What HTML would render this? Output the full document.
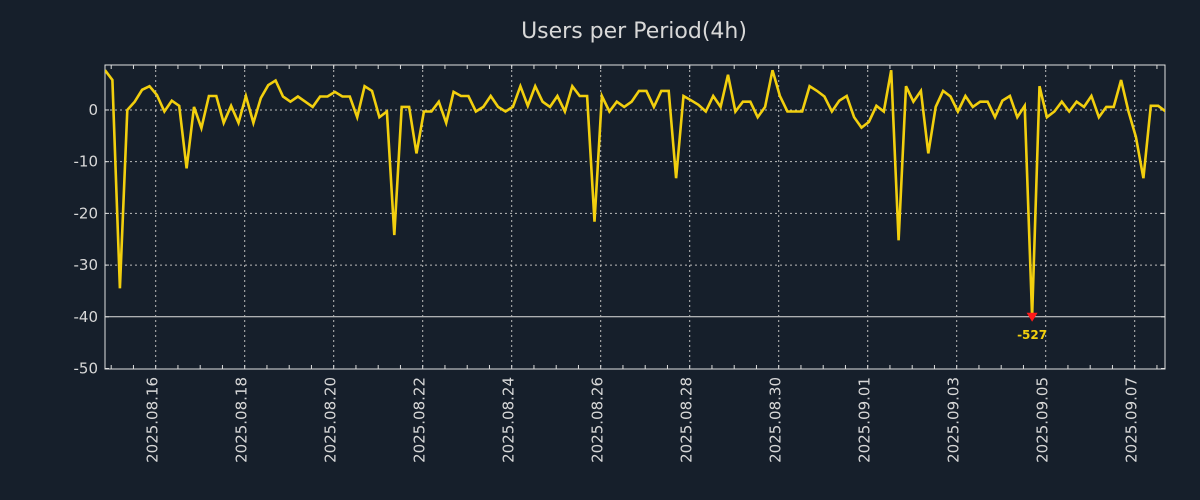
<!DOCTYPE html>
<html><head><meta charset="utf-8"><style>
html,body{margin:0;padding:0;background:#161f2b;}
svg{display:block;font-family:"DejaVu Sans","Liberation Sans",sans-serif;}
</style></head><body>
<svg id="chart" width="1200" height="500" viewBox="0 0 1200 500">
<rect width="1200" height="500" fill="#161f2b"/>
<text x="634" y="38" text-anchor="middle" font-size="22" fill="#d8d8d8">Users per Period(4h)</text>
<g id="grid"></g><g id="axes"></g>
<clipPath id="clip"><rect x="105" y="65" width="1060" height="304"/></clipPath>
<g id="series" clip-path="url(#clip)"></g><g id="annot"></g>
</svg>
<script>
const startTime = "2025-08-14T20:40";
const periodHours = 4;
const values = [7.7,5.8,-34.5,0,1.6,3.9,4.6,2.9,-0.3,1.8,0.8,-11.3,0.6,-3.5,2.7,2.7,-2.5,0.8,-2.5,2.7,-2.5,2.3,4.8,5.7,2.6,1.6,2.6,1.6,0.6,2.6,2.6,3.5,2.6,2.6,-1.4,4.6,3.7,-1.4,-0.3,-24.2,0.6,0.6,-8.4,-0.3,-0.3,1.6,-2.5,3.5,2.7,2.7,-0.3,0.6,2.7,0.6,-0.3,0.6,4.6,0.8,4.6,1.6,0.6,2.7,-0.3,4.6,2.7,2.7,-21.6,2.7,-0.3,1.6,0.6,1.6,3.7,3.7,0.6,3.7,3.7,-13.2,2.7,1.9,1.0,-0.3,2.7,0.6,6.8,-0.3,1.6,1.6,-1.4,0.6,7.7,2.7,-0.3,-0.3,-0.3,4.6,3.7,2.6,-0.3,1.8,2.7,-1.4,-3.4,-2.3,0.8,-0.3,7.7,-25.2,4.6,1.6,3.7,-8.4,0.6,3.7,2.6,-0.3,2.7,0.6,1.6,1.6,-1.4,1.8,2.7,-1.4,0.8,-527,4.6,-1.4,-0.3,1.6,-0.3,1.6,0.6,2.7,-1.4,0.6,0.6,5.8,-0.3,-5.2,-13.2,0.8,0.8,-0.3];
const yTicks = [0,-10,-20,-30,-40,-50];
const xTickLabels = ["2025.08.16","2025.08.18","2025.08.20","2025.08.22","2025.08.24","2025.08.26","2025.08.28","2025.08.30","2025.09.01","2025.09.03","2025.09.05","2025.09.07"];
const clipFloor = -40;

const NS="http://www.w3.org/2000/svg";
const L=105,R=1165,T=65,B=369;
const yMin=-50.1,yMax=8.7;
const y=v=>T+(yMax-v)/(yMax-yMin)*(B-T);
const ref=new Date("2025-08-16T00:00").getTime();
const pxPerHour=44.5/24;
const xOfTime=t=>155.7+(t-ref)/3600000*pxPerHour;
const t0=new Date(startTime).getTime();
const xOfIdx=i=>xOfTime(t0+i*periodHours*3600000);
function mk(tag,attrs,parent){const e=document.createElementNS(NS,tag);for(const k in attrs)e.setAttribute(k,attrs[k]);parent.appendChild(e);return e;}
const grid=document.getElementById('grid'),axes=document.getElementById('axes'),series=document.getElementById('series'),annot=document.getElementById('annot');

yTicks.forEach(v=>{
  const yy=y(v);
  if(v===clipFloor){
    const hl=mk('line',{x1:L,x2:R,y1:yy,y2:yy,stroke:'#e0e0e0','stroke-width':1},grid);
    
    
  } else if(v>-50){
    const gl=mk('line',{x1:L,x2:R,y1:yy,y2:yy,stroke:'#bbbbbb','stroke-width':1,'stroke-dasharray':'2,3'},grid);
    
    
  }
  const tl=mk('text',{x:L-7,y:yy+5,'text-anchor':'end','font-size':15,fill:'#d8d8d8'},axes);
  tl.textContent=v;
  
  
  mk('line',{x1:R,x2:R-4,y1:yy,y2:yy,stroke:'#ddd'},axes);
  mk('line',{x1:L,x2:L+4,y1:yy,y2:yy,stroke:'#ddd'},axes);
});
xTickLabels.forEach(lab=>{
  const p=lab.split('.');
  const t=new Date(p[0]+'-'+p[1]+'-'+p[2]+'T00:00').getTime();
  const xx=xOfTime(t);
  const gl=mk('line',{x1:xx,x2:xx,y1:T,y2:B,stroke:'#bbbbbb','stroke-width':1,'stroke-dasharray':'2,3'},grid);
  
  
  const tl=mk('text',{x:0,y:0,'text-anchor':'end','font-size':15,fill:'#d8d8d8',transform:`translate(${xx+2},377) rotate(-90)`},axes);
  tl.textContent=lab;
  
  
});
for(let h=-48;h<24*25;h+=12){const xx=155.7+h*pxPerHour;if(xx<=L||xx>=R)continue;
  mk('line',{x1:xx,x2:xx,y1:B,y2:B-4,stroke:'#ddd'},axes);mk('line',{x1:xx,x2:xx,y1:T,y2:T+4,stroke:'#ddd'},axes);}
const frame=mk('rect',{x:L,y:T,width:R-L,height:B-T,fill:'none',stroke:'#e0e0e0','stroke-width':1},axes);



const pts=values.map((v,i)=>[xOfIdx(i),y(Math.max(v,clipFloor))]);
const line=mk('polyline',{points:pts.map(p=>p[0].toFixed(1)+','+p[1].toFixed(1)).join(' '),fill:'none',stroke:'#f2cf0e','stroke-width':2.6,'stroke-linejoin':'miter'},series);



let mi=0;values.forEach((v,i)=>{if(v<values[mi])mi=i;});
const mx=xOfIdx(mi),my=y(Math.max(values[mi],clipFloor));
const mark=mk('path',{d:`M${mx-5.5},${my-4} L${mx+5.5},${my-4} L${mx},${my+5} Z`,fill:'#ff1a1a'},annot);


const ml=mk('text',{x:mx,y:my+22,'text-anchor':'middle','font-size':12,'font-weight':'bold',fill:'#f2cf0e'},annot);
ml.textContent=values[mi];


</script>
</body></html>
